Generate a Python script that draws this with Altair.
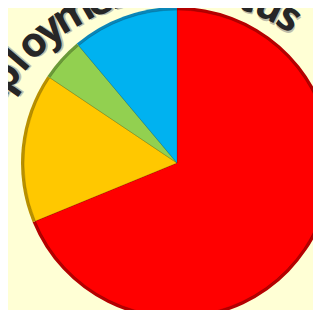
import altair as alt
import pandas as pd

# Pie data (clockwise from 12 o'clock)
categories = ["Employed", "Self-employed", "Student", "Unemployed"]
shares = [68.8, 15.6, 4.5, 11.1]
colors = ["#FF0000", "#FFC800", "#92D050", "#00B2F0"]
edge_colors = ["#B40000", "#B89000", "#6A9A38", "#0A86B8"]

# Curved title letters and their angular positions (degrees clockwise from north)
title_chars = list("Employment Status")
title_angles = [-72, -63.3, -55, -49.5, -43.5, -37.5, -29.8, -22, -15.5, -9.5,
                -5, 0, 6, 12.5, 19.5, 25.8, 31.8]

pie = pd.DataFrame({
    "category": categories,
    "share": shares,
    "color": colors,
    "edge": edge_colors,
    "order": list(range(len(categories))),
})

letters = pd.DataFrame({
    "ch": title_chars,
    "pos": [a % 360 for a in title_angles],
})

CX, CY = 169, 155      # pie centre
TX, TY = 170, 189      # centre of the title's arc

base = alt.Chart(pie).encode(
    theta=alt.Theta("share:Q", stack=True),
    order=alt.Order("order:Q"),
    x=alt.value(CX),
    y=alt.value(CY),
)

outer = base.mark_arc(outerRadius=156).encode(color=alt.Color("edge:N", scale=None))
inner = base.mark_arc(outerRadius=153, stroke="#00000030", strokeWidth=0.8).encode(
    color=alt.Color("color:N", scale=None)
)

tbase = alt.Chart(letters).encode(
    theta=alt.Theta("pos:Q", stack=False,
                    scale=alt.Scale(domain=[0, 360], range=[0, 6.283185307])),
    radius=alt.value(210),
    angle=alt.Angle("pos:Q", scale=None),
    text="ch:N",
    x=alt.value(TX),
    y=alt.value(TY),
)
shadow = tbase.mark_text(fontSize=41, font="Open Sans", fontWeight="bold",
                         baseline="middle", align="center",
                         color="#8a8a8a", opacity=0.55, dx=1.5, dy=1.5)
title = tbase.mark_text(fontSize=41, font="Open Sans", fontWeight="bold",
                        baseline="middle", align="center", color="#262626")

chart = alt.layer(outer, inner, shadow, title).resolve_scale(
    theta="independent"
).properties(
    width=305, height=302, autosize="none", padding=0
).configure(background="#FFFFD5").configure_view(stroke=None)

chart.save("out.html", embed_options={"renderer": "svg", "actions": False})
